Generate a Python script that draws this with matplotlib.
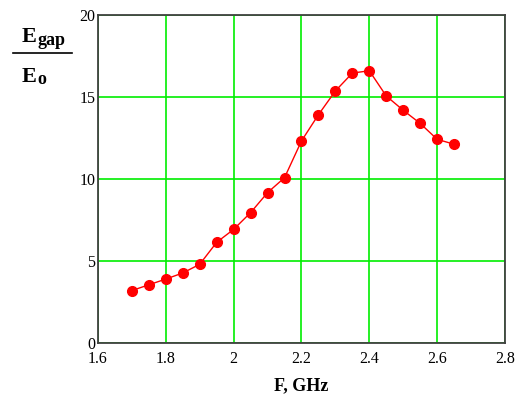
from matplotlib import pyplot as plt

# frecuencia [GHz] y relacion de campos
frecuencias = [1.70, 1.75, 1.80, 1.85, 1.90, 1.95, 2.00, 2.05, 2.10, 2.15,
               2.20, 2.25, 2.30, 2.35, 2.40, 2.45, 2.50, 2.55, 2.60, 2.65]
relacion = [3.2, 3.55, 3.9, 4.27, 4.8, 6.14, 6.93, 7.95, 9.17, 10.08,
            12.32, 13.92, 15.37, 16.46, 16.6, 15.06, 14.19, 13.39, 12.42, 12.12]

xticks = [1.6, 1.8, 2.0, 2.2, 2.4, 2.6, 2.8]
xlabels = ['1.6', '1.8', '2', '2.2', '2.4', '2.6', '2.8']
yticks = [0, 5, 10, 15, 20]

plt.rcParams['font.family'] = ['Liberation Serif', 'DejaVu Serif']

fig = plt.figure(figsize=(5.22, 4.01), dpi=100)
ax = fig.add_axes([0.1877, 0.1446, 0.7797, 0.818])

ax.plot(frecuencias, relacion, color='red', linewidth=1.0, marker='o',
        markersize=7, markeredgecolor='red', markerfacecolor='red', zorder=3)

ax.set_xlim(1.6, 2.8)
ax.set_ylim(0, 20)
ax.set_xticks(xticks)
ax.set_xticklabels(xlabels)
ax.set_yticks(yticks)
ax.grid(color='#00ee00', linewidth=1.2)
ax.tick_params(length=0, labelsize=11.5, colors='black')
ax.tick_params(axis='x', pad=6)
ax.tick_params(axis='y', pad=2)
for s in ax.spines.values():
    s.set_color('#404040')
    s.set_linewidth(1.3)

ax.set_xlabel('F, GHz', fontsize=13, fontweight='bold', labelpad=7)

# etiqueta del eje y como fraccion
fig.text(22/522, 1-42/401, 'E', fontsize=16, fontweight='bold', ha='left', va='baseline')
fig.text(37/522, 1-45/401, 'gap', fontsize=13, fontweight='bold', ha='left', va='baseline')
fig.add_artist(plt.Line2D([13/522, 72/522], [1-53/401, 1-53/401], color='black', linewidth=1.2))
fig.text(22/522, 1-82/401, 'E', fontsize=16, fontweight='bold', ha='left', va='baseline')
fig.text(37/522, 1-84/401, 'o', fontsize=13, fontweight='bold', ha='left', va='baseline')

plt.savefig('out.png', dpi=100)
